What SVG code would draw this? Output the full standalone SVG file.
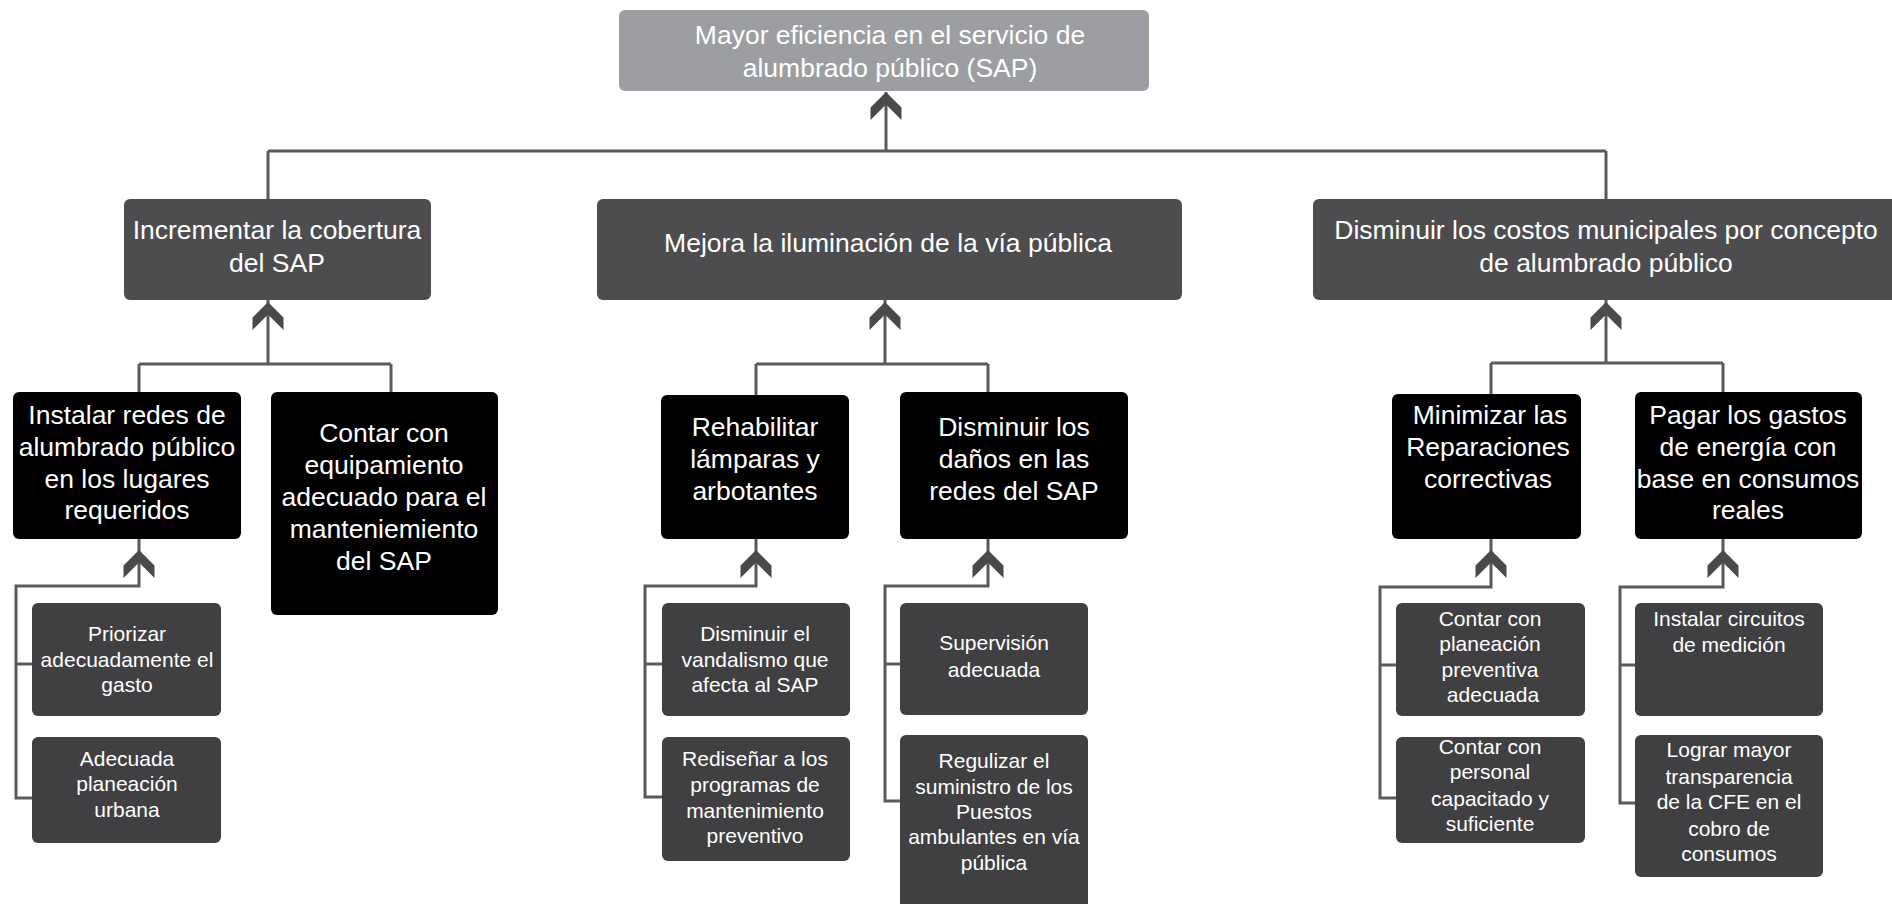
<svg xmlns="http://www.w3.org/2000/svg" xmlns:xlink="http://www.w3.org/1999/xlink" width="1892" height="904" viewBox="0 0 1892 904">
<style>
text{font-family:"Liberation Sans",Arial,Helvetica,sans-serif;fill:#ffffff;text-anchor:middle}
.big{font-size:26.5px}
.small{font-size:21px}
.top{fill:#9d9ea1}
.l2{fill:#4d4d4f}
.l3{fill:#000000}
.l4{fill:#404042}
.conn{fill:none;stroke:#5a5a5c;stroke-width:3}
.chev{fill:#4a4a4c}
</style>
<defs>
<path id="chev" d="M0,0 L15.5,15.5 L15.5,28 L0,12.5 L-15.5,28 L-15.5,15.5 Z"/>
</defs>
<rect width="1892" height="904" fill="#ffffff"/>

<g id="connectors">
<path class="conn" d="M886,92 V151 M268,151 H1606 M268,151 V199 M1606,151 V199"/>
<path class="conn" d="M268,300 V364 M139,364 H391 M139,364 V392 M391,364 V392"/>
<path class="conn" d="M885,300 V364 M756,364 H988 M756,364 V395 M988,364 V392"/>
<path class="conn" d="M1606,300 V363 M1491,363 H1723 M1491,363 V394 M1723,363 V392"/>
<path class="conn" d="M139,539 V586 H16 V798 H32 M16,664 H32"/>
<path class="conn" d="M756,539 V586 H645 V797 H662 M645,664 H662"/>
<path class="conn" d="M988,539 V586 H885 V801 H900 M885,664 H900"/>
<path class="conn" d="M1491,539 V587 H1380 V798 H1396 M1380,665 H1396"/>
<path class="conn" d="M1723,539 V587 H1620 V803 H1635 M1620,665 H1635"/>
<g class="chev">
<use xlink:href="#chev" x="886" y="92"/>
<use xlink:href="#chev" x="268" y="302"/>
<use xlink:href="#chev" x="885" y="302"/>
<use xlink:href="#chev" x="1606" y="302"/>
<use xlink:href="#chev" x="139" y="550"/>
<use xlink:href="#chev" x="756" y="550"/>
<use xlink:href="#chev" x="988" y="550"/>
<use xlink:href="#chev" x="1491" y="550"/>
<use xlink:href="#chev" x="1723" y="550"/>
</g>
</g>

<g id="n-top">
<rect class="top" x="619" y="10" width="530" height="81" rx="6"/>
<text class="big" x="890" y="44">Mayor eficiencia en el servicio de</text>
<text class="big" x="890" y="77">alumbrado público (SAP)</text>
</g>

<g id="n-incrementar">
<rect class="l2" x="124" y="199" width="307" height="101" rx="6"/>
<text class="big" x="277" y="239">Incrementar la cobertura</text>
<text class="big" x="277" y="272">del SAP</text>
</g>
<g id="n-mejora">
<rect class="l2" x="597" y="199" width="585" height="101" rx="6"/>
<text class="big" x="888" y="252">Mejora la iluminación de la vía pública</text>
</g>
<g id="n-disminuir-costos">
<rect class="l2" x="1313" y="199" width="592" height="101" rx="6"/>
<text class="big" x="1606" y="239">Disminuir los costos municipales por concepto</text>
<text class="big" x="1606" y="272">de alumbrado público</text>
</g>

<g id="n-instalar-redes">
<rect class="l3" x="13" y="392" width="228" height="147" rx="6"/>
<text class="big" x="127" y="424">Instalar redes de</text>
<text class="big" x="127" y="456">alumbrado público</text>
<text class="big" x="127" y="488">en los lugares</text>
<text class="big" x="127" y="519">requeridos</text>
</g>
<g id="n-contar-equipamiento">
<rect class="l3" x="271" y="392" width="227" height="223" rx="6"/>
<text class="big" x="384" y="442">Contar con</text>
<text class="big" x="384" y="474">equipamiento</text>
<text class="big" x="384" y="506">adecuado para el</text>
<text class="big" x="384" y="538">manteniemiento</text>
<text class="big" x="384" y="570">del SAP</text>
</g>
<g id="n-rehabilitar">
<rect class="l3" x="661" y="395" width="188" height="144" rx="6"/>
<text class="big" x="755" y="436">Rehabilitar</text>
<text class="big" x="755" y="468">lámparas y</text>
<text class="big" x="755" y="500">arbotantes</text>
</g>
<g id="n-disminuir-danos">
<rect class="l3" x="900" y="392" width="228" height="147" rx="6"/>
<text class="big" x="1014" y="436">Disminuir los</text>
<text class="big" x="1014" y="468">daños en las</text>
<text class="big" x="1014" y="500">redes del SAP</text>
</g>
<g id="n-minimizar">
<rect class="l3" x="1392" y="394" width="189" height="145" rx="6"/>
<text class="big" x="1490" y="424">Minimizar las</text>
<text class="big" x="1488" y="456">Reparaciones</text>
<text class="big" x="1488" y="488">correctivas</text>
</g>
<g id="n-pagar">
<rect class="l3" x="1635" y="392" width="227" height="147" rx="6"/>
<text class="big" x="1748" y="424">Pagar los gastos</text>
<text class="big" x="1748" y="456">de energía con</text>
<text class="big" x="1748" y="488">base en consumos</text>
<text class="big" x="1748" y="519">reales</text>
</g>

<g id="n-priorizar">
<rect class="l4" x="32" y="603" width="189" height="113" rx="6"/>
<text class="small" x="127" y="641">Priorizar</text>
<text class="small" x="127" y="667">adecuadamente el</text>
<text class="small" x="127" y="692">gasto</text>
</g>
<g id="n-adecuada-planeacion">
<rect class="l4" x="32" y="737" width="189" height="106" rx="6"/>
<text class="small" x="127" y="766">Adecuada</text>
<text class="small" x="127" y="791">planeación</text>
<text class="small" x="127" y="817">urbana</text>
</g>
<g id="n-vandalismo">
<rect class="l4" x="662" y="603" width="188" height="113" rx="6"/>
<text class="small" x="755" y="641">Disminuir el</text>
<text class="small" x="755" y="667">vandalismo que</text>
<text class="small" x="755" y="692">afecta al SAP</text>
</g>
<g id="n-redisenar">
<rect class="l4" x="662" y="737" width="188" height="124" rx="6"/>
<text class="small" x="755" y="766">Rediseñar a los</text>
<text class="small" x="755" y="792">programas de</text>
<text class="small" x="755" y="818">mantenimiento</text>
<text class="small" x="755" y="843">preventivo</text>
</g>
<g id="n-supervision">
<rect class="l4" x="900" y="603" width="188" height="112" rx="6"/>
<text class="small" x="994" y="650">Supervisión</text>
<text class="small" x="994" y="677">adecuada</text>
</g>
<g id="n-regulizar">
<rect class="l4" x="900" y="735" width="188" height="180" rx="6"/>
<text class="small" x="994" y="768">Regulizar el</text>
<text class="small" x="994" y="794">suministro de los</text>
<text class="small" x="994" y="819">Puestos</text>
<text class="small" x="994" y="844">ambulantes en vía</text>
<text class="small" x="994" y="870">pública</text>
</g>
<g id="n-planeacion-preventiva">
<rect class="l4" x="1396" y="603" width="189" height="113" rx="6"/>
<text class="small" x="1490" y="626">Contar con</text>
<text class="small" x="1490" y="651">planeación</text>
<text class="small" x="1490" y="677">preventiva</text>
<text class="small" x="1493" y="702">adecuada</text>
</g>
<g id="n-personal">
<rect class="l4" x="1396" y="737" width="189" height="106" rx="6"/>
<text class="small" x="1490" y="754">Contar con</text>
<text class="small" x="1490" y="779">personal</text>
<text class="small" x="1490" y="806">capacitado y</text>
<text class="small" x="1490" y="831">suficiente</text>
</g>
<g id="n-circuitos">
<rect class="l4" x="1635" y="603" width="188" height="113" rx="6"/>
<text class="small" x="1729" y="626">Instalar circuitos</text>
<text class="small" x="1729" y="652">de medición</text>
</g>
<g id="n-transparencia">
<rect class="l4" x="1635" y="735" width="188" height="142" rx="6"/>
<text class="small" x="1729" y="757">Lograr mayor</text>
<text class="small" x="1729" y="784">transparencia</text>
<text class="small" x="1729" y="809">de la CFE en el</text>
<text class="small" x="1729" y="836">cobro de</text>
<text class="small" x="1729" y="861">consumos</text>
</g>
</svg>
